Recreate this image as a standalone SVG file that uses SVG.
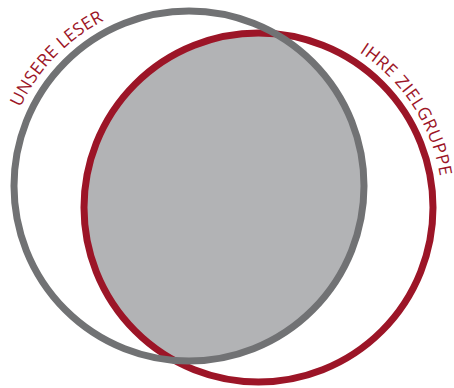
<svg xmlns="http://www.w3.org/2000/svg" width="454" height="388" viewBox="0 0 454 388">
  <style>
    .lbl { font-family: "Open Sans", "Noto Sans", sans-serif; font-size: 17.5px; fill: #9c1527; }
    .ring { fill: none; stroke-width: 7; }
  </style>
  <defs>
    <clipPath id="clipGray">
      <circle cx="189" cy="186" r="175"/>
    </clipPath>
    <path id="arcLeser" d="M20.4,107.4 A186,186 0 0 1 172.8,0.7"/>
    <path id="arcZiel" d="M359.3,52.3 A184,184 0 0 1 442.5,207.5"/>
  </defs>
  <g id="overlap">
    <circle cx="258.5" cy="207.5" r="174.5" fill="#b2b3b5" clip-path="url(#clipGray)"/>
  </g>
  <g id="zielgruppe">
    <circle class="ring" cx="258.5" cy="207.5" r="174.5" stroke="#9c1527"/>
    <text class="lbl" letter-spacing="0.6"><textPath href="#arcZiel">IHRE ZIELGRUPPE</textPath></text>
  </g>
  <g id="leser">
    <circle class="ring" cx="189" cy="186" r="175" stroke="#717274"/>
    <text class="lbl" letter-spacing="0.3"><textPath href="#arcLeser">UNSERE  LESER</textPath></text>
  </g>
</svg>
